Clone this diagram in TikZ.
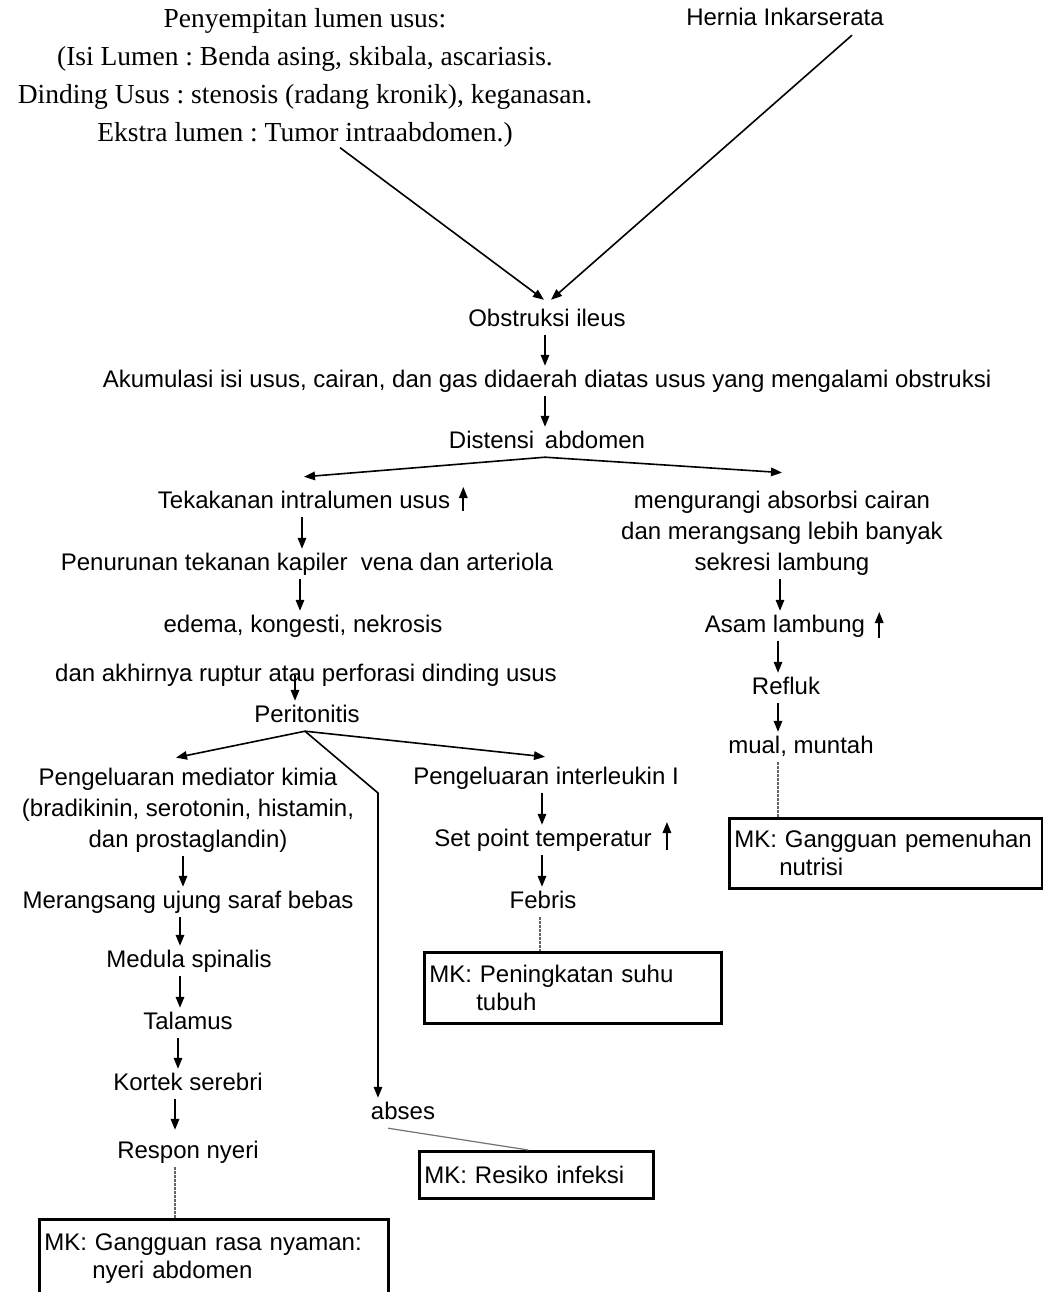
\documentclass[tikz,border=0pt]{standalone}
\usepackage{fontspec}
\setmainfont{Liberation Sans}
\newfontfamily\seriffont{Liberation Serif}
\usetikzlibrary{arrows.meta,calc}
\frenchspacing
\begin{document}
\begin{tikzpicture}[x=1pt,y=-1pt,
  txt/.style={font=\fontsize{24}{31}\selectfont, inner xsep=0pt, inner ysep=4pt, text height=17pt, text depth=5pt},
  mtxt/.style={font=\fontsize{24}{31}\selectfont, inner xsep=0pt, inner ysep=4pt, align=center},
  arr/.style={line width=1.6pt, -{Triangle[length=11pt,width=8.5pt]}},
  mk/.style={draw, line width=2.6pt, font=\fontsize{24}{28}\selectfont, align=left, anchor=north west, inner xsep=5pt, inner ysep=0pt},
  dl/.style={draw=black!60, line width=1.2pt, dash pattern=on 2.5pt off 1.5pt}
]
\useasboundingbox (0,0) rectangle (1043,1292);
\fill[white] (0,0) rectangle (1043,1292);

% top
\node[font=\seriffont\fontsize{27.5}{38}\selectfont, align=center, inner sep=0pt] (peny) at (305,78)
  {Penyempitan lumen usus:\\(Isi Lumen : Benda asing, skibala, ascariasis.\\Dinding Usus : stenosis (radang kronik), keganasan.\\Ekstra lumen : Tumor intraabdomen.)};
\node[txt] (hern) at (785,20) {Hernia Inkarserata};

\node[txt] (obs) at (547,320) {Obstruksi ileus};
\node[txt] (akum) at (547,381) {Akumulasi isi usus, cairan, dan gas didaerah diatas usus yang mengalami obstruksi};
\node[txt] (dist) at (547,442) {Distensi\, abdomen};

% left main column
\node[txt] (tek) at (304,502) {Tekakanan intralumen usus};
\node[txt] (pen) at (307,564) {Penurunan tekanan kapiler\ \ vena dan arteriola};
\node[txt] (edema) at (303,626) {edema, kongesti, nekrosis};
\node[txt] (rupt) at (306,675) {dan akhirnya ruptur atau perforasi dinding usus};
\node[txt] (perit) at (307,716) {Peritonitis};

% right column
\node[mtxt] (reduce) at (782,533) {mengurangi absorbsi cairan\\dan merangsang lebih banyak\\sekresi lambung};
\node[txt] (asam) at (785,626) {Asam lambung};
\node[txt] (refl) at (786,688) {Refluk};
\node[txt] (mual) at (801,747) {mual, muntah};
\node[mk, minimum width=313pt, minimum height=70pt, text width=303pt] (mk1) at (728,817)
  {MK: Gangguan pemenuhan\\\hspace*{45pt}nutrisi};

% left lower column
\node[mtxt] (med) at (188,810) {Pengeluaran mediator kimia\\(bradikinin, serotonin, histamin,\\dan prostaglandin)};
\node[txt] (mer) at (188,902) {Merangsang ujung saraf bebas};
\node[txt] (medula) at (189,961) {Medula spinalis};
\node[txt] (tal) at (188,1023) {Talamus};
\node[txt] (kor) at (188,1084) {Kortek serebri};
\node[txt] (resp) at (188,1152) {Respon nyeri};
\node[mk, minimum width=349pt, minimum height=78pt, text width=339pt] (mk4) at (38,1218)
  {MK: Gangguan rasa nyaman:\\\hspace*{48pt}nyeri abdomen};

% middle
\node[txt] (abses) at (403,1113) {abses};
\node[mk, minimum width=234pt, minimum height=47pt, text width=224pt] (mk3) at (418,1150)
  {MK: Resiko infeksi};
\coordinate (bend) at (378,793);

% interleukin column
\node[txt] (inter) at (546,778) {Pengeluaran interleukin I};
\node[txt] (setp) at (543,840) {Set point temperatur};
\node[txt] (feb) at (543,902) {Febris};
\node[mk, minimum width=297pt, minimum height=71pt, text width=287pt] (mk2) at (423,951)
  {MK: Peningkatan suhu\\\hspace*{47pt}tubuh};

% connectors
\draw[arr] ([xshift=35pt]peny.south) -- ([xshift=-3pt,yshift=5pt]obs.north);
\draw[arr] ([xshift=67pt]hern.south) -- ([xshift=4pt,yshift=5pt]obs.north);
\draw[arr] ([xshift=-2pt]obs.south) -- ([xshift=-2pt]obs.south |- akum.north);
\draw[arr] ([xshift=-2pt]akum.south) -- ([xshift=-2pt]akum.south |- dist.north);
\draw[arr] ([xshift=-2pt]dist.south) -- ([yshift=10pt]tek.north);
\draw[arr] ([xshift=-2pt]dist.south) -- ([yshift=14pt]reduce.north);

\draw[arr] ([xshift=-2pt]tek.south) -- ([xshift=-2pt]tek.south |- pen.north);
\draw[arr] ([xshift=-7pt]pen.south) -- ([xshift=-7pt]pen.south |- edema.north);
\draw[arr] ($(tek.east)+(13,9)$) -- ++(0,-24);
\draw[arr] ([xshift=-11pt]rupt.center) -- ([xshift=-11pt]rupt.center |- perit.north);

\draw[arr] ([xshift=-2pt]reduce.south) -- ([xshift=-2pt]reduce.south |- asam.north);
\draw[arr] ($(asam.east)+(14,12)$) -- ++(0,-26);
\draw[arr] ([xshift=-7pt]asam.south) -- ([xshift=-7pt]asam.south |- refl.north);
\draw[arr] ([xshift=-8pt]refl.south) -- ([xshift=-8pt]refl.south |- mual.north);
\draw[dl] ([xshift=-23pt]mual.south) -- ([xshift=-23pt]mual.south |- mk1.north);

\draw[arr] ([xshift=-2pt]perit.south) -- ([xshift=-12pt,yshift=6pt]med.north);
\draw[arr] ([xshift=-2pt]perit.south) -- ([xshift=-1pt,yshift=6pt]inter.north);
\draw[arr] ([xshift=-2pt]perit.south) -- (bend) -- (bend |- abses.north);

\draw[arr] ([xshift=-5pt]med.south) -- ([xshift=-5pt]med.south |- mer.north);
\draw[arr] ([xshift=-8pt]mer.south) -- ([xshift=-8pt]mer.south |- medula.north);
\draw[arr] ([xshift=-9pt]medula.south) -- ([xshift=-9pt]medula.south |- tal.north);
\draw[arr] ([xshift=-10pt]tal.south) -- ([xshift=-10pt]tal.south |- kor.north);
\draw[arr, shorten >=7pt] ([xshift=-13pt]kor.south) -- ([xshift=-13pt]kor.south |- resp.north);
\draw[dl] ([xshift=-13pt]resp.south) -- ([xshift=-13pt]resp.south |- mk4.north);

\draw[draw=black!55, line width=1.2pt] ([xshift=-15pt]abses.south) -- ([xshift=-8pt]mk3.north);

\draw[arr] ([xshift=-4pt]inter.south) -- ([xshift=-4pt]inter.south |- setp.north);
\draw[arr] ($(setp.east)+(15,10)$) -- ++(0,-28);
\draw[arr] ([xshift=-1pt]setp.south) -- ([xshift=-1pt]setp.south |- feb.north);
\draw[dl] ([xshift=-3pt]feb.south) -- ([xshift=-3pt]feb.south |- mk2.north);
\end{tikzpicture}
\end{document}
